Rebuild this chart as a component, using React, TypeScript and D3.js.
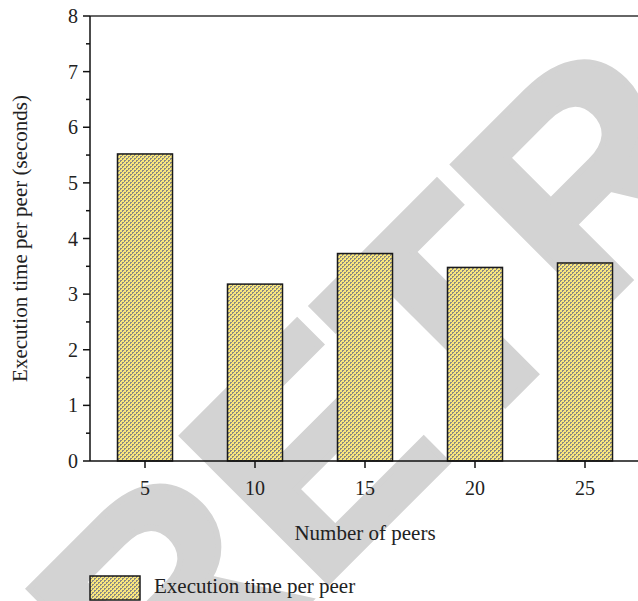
import React from "react";
import * as d3 from "d3";

const peers = [5, 10, 15, 20, 25];
const execTime = [5.52, 3.18, 3.73, 3.48, 3.56];
const yTicks = [0, 1, 2, 3, 4, 5, 6, 7, 8];
const yMinorTicks = [0.5, 1.5, 2.5, 3.5, 4.5, 5.5, 6.5, 7.5];
const xTicks = [5, 10, 15, 20, 25];
const seriesName = "Execution time per peer";
const xTitle = "Number of peers";
const yTitle = "Execution time per peer (seconds)";
const watermarkLetters = ["R", "E", "T", "R", "A", "C", "T", "E", "D"];
const letterAdvance = [0.722, 0.667, 0.611, 0.722, 0.722, 0.722, 0.611, 0.667, 0.722];

const W = 638, H = 601;
const left = 90, right = 640, top = 16, bottom = 461;
const serif = "'Liberation Serif', 'Times New Roman', serif";

export default function App() {
  const x = d3.scaleLinear().domain([2.5, 27.5]).range([left, right]);
  const y = d3.scaleLinear().domain([0, 8]).range([bottom, top]);
  const barW = 55;
  const em = 300;
  const offsets = d3.cumsum([0, ...letterAdvance.slice(0, -1)]);
  return (
    <svg width={W} height={H} style={{ position: "absolute", left: 0, top: 0, background: "#fff" }}>
      <defs>
        <pattern id="hatch" width="4" height="4" patternUnits="userSpaceOnUse">
          <rect width="4" height="4" fill="#f9e77d" />
          <rect x="0" y="0" width="2" height="1" fill="#8a8884" />
          <rect x="0" y="1" width="1" height="1" fill="#8a8884" />
          <rect x="2" y="2" width="2" height="1" fill="#8a8884" />
          <rect x="2" y="3" width="1" height="1" fill="#8a8884" />
        </pattern>
      </defs>
      <g transform="translate(161,749) rotate(-45)">
        {watermarkLetters.map((ch, i) => (
          <text
            key={i}
            x={offsets[i] * em}
            y={0}
            fontFamily="'Liberation Sans', Arial, sans-serif"
            fontWeight="bold"
            fontSize={em}
            fill="#d3d3d3"
            stroke="#d3d3d3"
            strokeWidth={6}
            strokeLinejoin="miter"
          >
            {ch}
          </text>
        ))}
      </g>
      <line x1={left} x2={right} y1={top} y2={top} stroke="#333" strokeWidth={1.5} />
      {peers.map((p, i) => (
        <rect
          key={p}
          x={x(p) - barW / 2}
          y={y(execTime[i])}
          width={barW}
          height={y(0) - y(execTime[i])}
          fill="url(#hatch)"
          stroke="#1a1a1a"
          strokeWidth={1.5}
        />
      ))}
      <line x1={left} x2={left} y1={top} y2={bottom} stroke="#111" strokeWidth={1.5} />
      <line x1={left} x2={right} y1={bottom} y2={bottom} stroke="#111" strokeWidth={1.5} />
      {yTicks.map((t) => (
        <g key={t}>
          <line x1={left - 7} x2={left} y1={y(t)} y2={y(t)} stroke="#111" strokeWidth={1.5} />
          <text x={left - 12} y={y(t)} dy="0.35em" textAnchor="end" fontFamily={serif} fontSize={20} fill="#222">
            {t}
          </text>
        </g>
      ))}
      {yMinorTicks.map((t) => (
        <line key={t} x1={left - 4} x2={left} y1={y(t)} y2={y(t)} stroke="#111" strokeWidth={1.5} />
      ))}
      {xTicks.map((t) => (
        <g key={t}>
          <line x1={x(t)} x2={x(t)} y1={bottom} y2={bottom + 7} stroke="#111" strokeWidth={1.5} />
          <text x={x(t)} y={495} textAnchor="middle" fontFamily={serif} fontSize={20} fill="#222">
            {t}
          </text>
        </g>
      ))}
      <text x={(left + right) / 2} y={540} textAnchor="middle" fontFamily={serif} fontSize={21} fill="#222">
        {xTitle}
      </text>
      <text
        transform={`translate(27,${(top + bottom) / 2}) rotate(-90)`}
        textAnchor="middle"
        fontFamily={serif}
        fontSize={21}
        fill="#222"
      >
        {yTitle}
      </text>
      <rect x={90} y={576} width={50} height={24} fill="url(#hatch)" stroke="#1a1a1a" strokeWidth={1.5} />
      <text x={154} y={593} fontFamily={serif} fontSize={21} fill="#222">
        {seriesName}
      </text>
    </svg>
  );
}
